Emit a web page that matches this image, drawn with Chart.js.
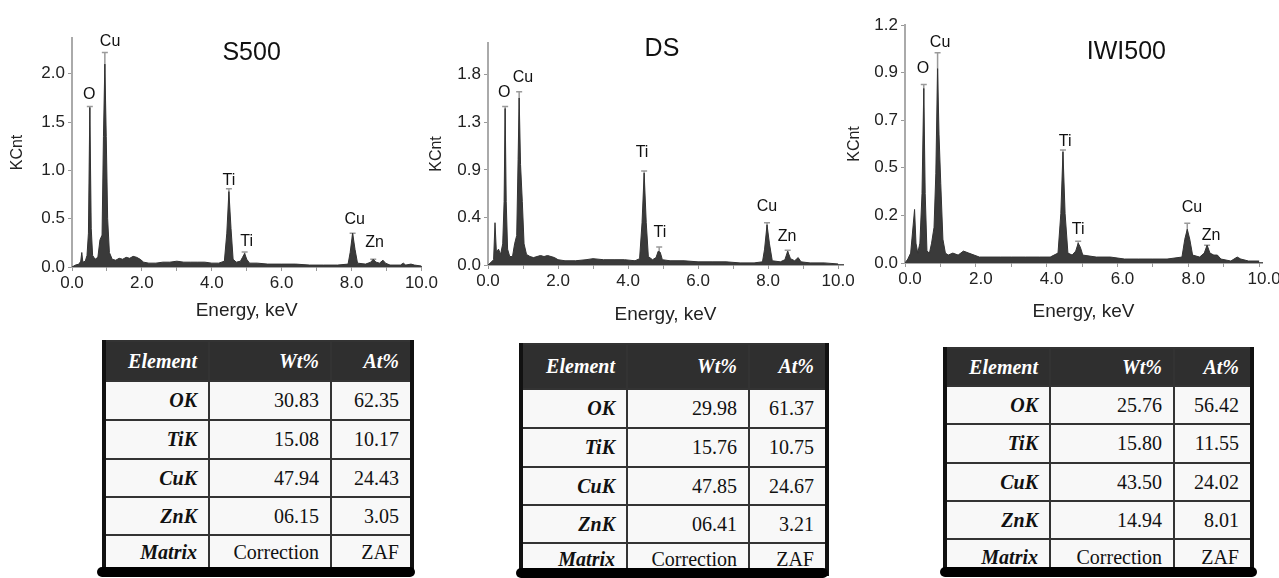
<!DOCTYPE html>
<html>
<head>
<meta charset="utf-8">
<script src="https://cdn.jsdelivr.net/npm/chart.js@4.4.1/dist/chart.umd.min.js"></script>
<style>
  body { margin: 0; background: #fff; }
  #wrap { position: relative; width: 1279px; height: 578px; overflow: hidden; background: #fff; }
  .plot { position: absolute; top: 0; }
  .tbl { position: absolute; border-collapse: collapse; table-layout: fixed;
         font-family: 'Liberation Serif', 'Times New Roman', serif; font-size: 20px;
         border-left: 4px solid #111; border-right: 4px solid #111; border-top: 2px solid #222; }
  .tbl td, .tbl th { border: 2px solid #333; text-align: right; padding: 0 11px 0 2px;
                     background: #f8f8f8; color: #111; white-space: nowrap; }
  .tbl th { background: #2f2f2f; color: #fff; font-style: italic; font-weight: bold; }
  .tbl td.el { font-weight: bold; font-style: italic; }
  .bar { position: absolute; height: 10px; background: #000; border-radius: 5px; }
</style>
</head>
<body>
<div id="wrap">
  <div class="plot" style="left:0px"><canvas id="c1" width="440" height="330"></canvas></div>
  <div class="plot" style="left:420px"><canvas id="c2" width="441" height="330"></canvas></div>
  <div class="plot" style="left:840px"><canvas id="c3" width="439" height="330"></canvas></div>
</div>
<script>
// ---- data (energy keV, counts KCnt) ----
const s500Energy = [0.00,0.10,0.20,0.25,0.28,0.31,0.38,0.43,0.47,0.51,0.55,0.59,0.66,0.74,0.80,0.86,0.90,0.94,0.98,1.02,1.07,1.15,1.25,1.35,1.45,1.55,1.65,1.75,1.85,1.95,2.05,2.20,2.40,2.60,2.80,3.00,3.20,3.40,3.60,3.80,4.00,4.20,4.36,4.43,4.49,4.55,4.61,4.70,4.82,4.88,4.94,5.00,5.08,5.30,5.60,6.00,6.40,6.80,7.20,7.60,7.90,7.96,8.03,8.10,8.17,8.40,8.55,8.62,8.70,8.80,8.90,8.97,9.10,9.40,9.48,9.55,9.70,9.80,10.00];
const s500Counts = [0.00,0.02,0.03,0.06,0.15,0.05,0.06,0.12,0.35,1.65,0.40,0.12,0.08,0.10,0.28,0.33,1.35,2.10,1.35,0.50,0.15,0.08,0.07,0.09,0.08,0.10,0.09,0.11,0.10,0.08,0.05,0.04,0.04,0.05,0.05,0.06,0.05,0.05,0.05,0.05,0.04,0.04,0.06,0.35,0.78,0.40,0.08,0.05,0.06,0.10,0.14,0.08,0.04,0.04,0.03,0.03,0.03,0.02,0.02,0.02,0.03,0.15,0.35,0.18,0.04,0.03,0.05,0.08,0.05,0.04,0.07,0.04,0.02,0.02,0.04,0.02,0.03,0.02,0.01];

const dsEnergy = [0.00,0.10,0.16,0.20,0.24,0.30,0.36,0.42,0.46,0.49,0.52,0.56,0.62,0.70,0.76,0.82,0.86,0.89,0.93,0.98,1.03,1.10,1.20,1.30,1.40,1.50,1.60,1.70,1.80,1.90,2.00,2.20,2.50,2.80,3.00,3.30,3.60,3.90,4.20,4.33,4.40,4.46,4.52,4.58,4.70,4.80,4.86,4.92,4.98,5.20,5.60,6.00,6.40,6.80,7.20,7.60,7.84,7.90,7.97,8.04,8.12,8.35,8.48,8.56,8.64,8.76,8.86,8.94,9.20,9.60,10.00];
const dsCounts = [0.00,0.03,0.05,0.40,0.12,0.15,0.10,0.20,0.60,1.48,0.60,0.15,0.08,0.08,0.20,0.28,1.00,1.58,0.95,0.60,0.20,0.10,0.08,0.07,0.08,0.09,0.08,0.09,0.08,0.07,0.05,0.04,0.04,0.05,0.06,0.05,0.05,0.05,0.04,0.06,0.40,0.87,0.40,0.08,0.05,0.07,0.13,0.12,0.05,0.04,0.04,0.03,0.03,0.03,0.02,0.02,0.03,0.15,0.38,0.20,0.04,0.03,0.05,0.13,0.06,0.04,0.07,0.03,0.02,0.02,0.01];

const iwiEnergy = [0.00,0.08,0.16,0.27,0.31,0.36,0.42,0.48,0.53,0.57,0.62,0.69,0.75,0.82,0.87,0.92,0.96,1.01,1.07,1.14,1.22,1.35,1.50,1.65,1.80,1.95,2.10,2.40,2.70,3.00,3.40,3.80,4.10,4.32,4.40,4.46,4.52,4.60,4.72,4.82,4.89,4.95,5.02,5.40,5.80,6.20,6.60,7.00,7.40,7.82,7.90,7.97,8.04,8.12,8.32,8.45,8.53,8.61,8.72,8.82,8.92,9.20,9.38,9.48,9.70,10.00];
const iwiCounts = [0.00,0.02,0.05,0.27,0.10,0.05,0.10,0.35,0.88,0.35,0.06,0.05,0.10,0.18,0.45,0.98,0.65,0.40,0.12,0.05,0.04,0.05,0.04,0.06,0.05,0.04,0.03,0.03,0.03,0.03,0.03,0.03,0.03,0.05,0.25,0.56,0.25,0.05,0.04,0.06,0.10,0.08,0.04,0.03,0.03,0.02,0.02,0.02,0.02,0.03,0.12,0.17,0.12,0.04,0.03,0.05,0.09,0.05,0.04,0.04,0.02,0.01,0.03,0.02,0.01,0.01];

// peak labels
const peakNames = ['O', 'Cu', 'Ti', 'Ti', 'Cu', 'Zn'];
const s500PeakE = [0.51, 0.94, 4.49, 4.94, 8.03, 8.62];
const s500PeakCap = [1.66, 2.22, 0.81, 0.155, 0.35, 0.08];
const s500LabelE = [0.49, 1.09, 4.49, 5.0, 8.09, 8.66];
const s500LabelY = [1.78, 2.33, 0.89, 0.26, 0.49, 0.25];

const dsPeakE = [0.49, 0.89, 4.46, 4.89, 7.97, 8.56];
const dsPeakCap = [1.5, 1.64, 0.89, 0.17, 0.4, 0.14];
const dsLabelE = [0.46, 1.0, 4.4, 4.91, 7.97, 8.54];
const dsLabelY = [1.63, 1.77, 1.06, 0.31, 0.55, 0.27];

const iwiPeakE = [0.53, 0.92, 4.46, 4.89, 7.97, 8.53];
const iwiPeakCap = [0.9, 1.06, 0.57, 0.11, 0.2, 0.09];
const iwiLabelE = [0.51, 0.99, 4.52, 4.89, 8.1, 8.64];
const iwiLabelY = [0.98, 1.11, 0.61, 0.17, 0.28, 0.14];

// axis ticks
const xTickValues = [0, 1, 2, 3, 4, 5, 6, 7, 8, 9, 10];
const xTickLabels = ['0.0', '', '2.0', '', '4.0', '', '6.0', '', '8.0', '', '10.0'];
const s500YTicks = [0, 0.5, 1.0, 1.5, 2.0];
const s500YLabels = ['0.0', '0.5', '1.0', '1.5', '2.0'];
const dsYTicks = [0, 0.45, 0.9, 1.35, 1.8];
const dsYLabels = ['0.0', '0.4', '0.9', '1.3', '1.8'];
const iwiYTicks = [0, 0.24, 0.48, 0.72, 0.96, 1.2];
const iwiYLabels = ['0.0', '0.2', '0.5', '0.7', '0.9', '1.2'];

// tables
const tableElements = ['OK', 'TiK', 'CuK', 'ZnK'];
const s500Wt = ['30.83', '15.08', '47.94', '06.15'];
const s500At = ['62.35', '10.17', '24.43', '3.05'];
const dsWt = ['29.98', '15.76', '47.85', '06.41'];
const dsAt = ['61.37', '10.75', '24.67', '3.21'];
const iwiWt = ['25.76', '15.80', '43.50', '14.94'];
const iwiAt = ['56.42', '11.55', '24.02', '8.01'];

const FONT = '"Liberation Sans", Arial, sans-serif';

const peakPlugin = {
    id: 'peaks',
    beforeDatasetsDraw(chart, args, o) {
        const {ctx, scales: {x, y}} = chart;
        ctx.save();
        ctx.strokeStyle = '#9a9a9a';
        ctx.lineWidth = 1.5;
        o.energy.forEach((e, i) => {
            const px = x.getPixelForValue(e);
            const top = y.getPixelForValue(o.cap[i]);
            ctx.beginPath();
            ctx.moveTo(px, y.getPixelForValue(0));
            ctx.lineTo(px, top);
            ctx.moveTo(px - 3, top);
            ctx.lineTo(px + 3, top);
            ctx.stroke();
        });
        ctx.restore();
    },
    afterDatasetsDraw(chart, args, o) {
        const {ctx, chartArea, scales: {x, y}} = chart;
        ctx.save();
        ctx.fillStyle = '#111';
        ctx.textAlign = 'center';
        ctx.textBaseline = 'middle';
        ctx.font = '16px ' + FONT;
        peakNames.forEach((n, i) => {
            ctx.fillText(n, x.getPixelForValue(o.labelE[i]), y.getPixelForValue(o.labelY[i]));
        });
        ctx.font = '25px ' + FONT;
        ctx.fillText(o.title, chartArea.left + o.titleX * (chartArea.right - chartArea.left), o.titleY);
        ctx.restore();
    }
};

function spectrum(id, energy, counts, cfg) {
    const ctx = document.getElementById(id).getContext('2d');
    return new Chart(ctx, {
        type: 'line',
        data: {
            datasets: [{
                data: energy.map((e, i) => ({x: e, y: counts[i]})),
                borderColor: '#333',
                backgroundColor: '#3a3a3a',
                borderWidth: 1,
                pointRadius: 0,
                tension: 0,
                fill: 'origin'
            }]
        },
        options: {
            responsive: false,
            animation: false,
            layout: {padding: {left: 0, top: cfg.top, right: cfg.right, bottom: 0}},
            plugins: {
                legend: {display: false},
                tooltip: {enabled: false},
                peaks: cfg.peaks
            },
            scales: {
                x: {
                    type: 'linear',
                    min: cfg.xMin,
                    max: cfg.xMax,
                    afterBuildTicks: s => { s.ticks = xTickValues.map(v => ({value: v})); },
                    afterFit: s => { s.height = cfg.xH; },
                    grid: {drawOnChartArea: false, drawTicks: true, tickLength: 4, color: '#999'},
                    border: {display: true, color: '#555', width: 1.5},
                    ticks: {
                        autoSkip: false, maxRotation: 0, padding: 2,
                        labelOffset: cfg.labelOffset || 0,
                        color: '#222', font: {size: 17, family: FONT},
                        callback: (v, i) => xTickLabels[i]
                    },
                    title: {
                        display: true, text: 'Energy, keV', color: '#222',
                        font: {size: 19, family: FONT},
                        padding: {top: 0, bottom: cfg.xTitlePad}
                    }
                },
                y: {
                    min: 0,
                    max: cfg.yMax,
                    afterBuildTicks: s => { s.ticks = cfg.yTicks.map(v => ({value: v})); },
                    afterFit: s => { s.width = cfg.yW; },
                    grid: {drawOnChartArea: false, drawTicks: true, tickLength: 4, color: '#999'},
                    border: {display: true, color: '#aaa', width: 2},
                    ticks: {
                        padding: 3, color: '#222', font: {size: 17, family: FONT},
                        callback: (v, i) => cfg.yLabels[i]
                    },
                    title: {
                        display: true, text: 'KCnt', color: '#222',
                        font: {size: 16, family: FONT},
                        padding: {top: cfg.yTitlePad, bottom: 0}
                    }
                }
            }
        },
        plugins: [peakPlugin]
    });
}

spectrum('c1', s500Energy, s500Counts, {
    top: 38, right: 18, xMin: 0, xMax: 10, yMax: 2.37, xH: 63, yW: 72,
    yTicks: s500YTicks, yLabels: s500YLabels, xTitlePad: 8, yTitlePad: 8,
    peaks: {energy: s500PeakE, cap: s500PeakCap, labelE: s500LabelE, labelY: s500LabelY,
            title: 'S500', titleX: 0.514, titleY: 53}
});

spectrum('c2', dsEnergy, dsCounts, {
    top: 43, right: 18, xMin: 0, xMax: 10.14, yMax: 2.1, xH: 65, yW: 68,
    yTicks: dsYTicks, yLabels: dsYLabels, xTitlePad: 4, yTitlePad: 7,
    peaks: {energy: dsPeakE, cap: dsPeakCap, labelE: dsLabelE, labelY: dsLabelY,
            title: 'DS', titleX: 0.49, titleY: 49}
});

spectrum('c3', iwiEnergy, iwiCounts, {
    top: 25, right: 17, xMin: 0, xMax: 10.08, yMax: 1.2, xH: 67, yW: 65,
    yTicks: iwiYTicks, yLabels: iwiYLabels, xTitlePad: 7, yTitlePad: 5, labelOffset: 5,
    peaks: {energy: iwiPeakE, cap: iwiPeakCap, labelE: iwiLabelE, labelY: iwiLabelY,
            title: 'IWI500', titleX: 0.62, titleY: 52}
});

// ---- composition tables ----
function makeTable(left, top, cols, rows, wt, at, bar) {
    const wrap = document.getElementById('wrap');
    const t = document.createElement('table');
    t.className = 'tbl';
    t.style.left = left + 'px';
    t.style.top = top + 'px';
    const cg = document.createElement('colgroup');
    cols.forEach(w => { const c = document.createElement('col'); c.style.width = w + 'px'; cg.appendChild(c); });
    t.appendChild(cg);
    let html = '<tr style="height:' + rows[0] + 'px"><th>Element</th><th>Wt%</th><th>At%</th></tr>';
    tableElements.forEach((el, i) => {
        html += '<tr style="height:' + rows[i + 1] + 'px"><td class="el">' + el + '</td><td>' + wt[i] + '</td><td>' + at[i] + '</td></tr>';
    });
    html += '<tr style="height:' + rows[5] + 'px"><td class="el">Matrix</td><td>Correction</td><td>ZAF</td></tr>';
    t.insertAdjacentHTML('beforeend', html);
    wrap.appendChild(t);
    const b = document.createElement('div');
    b.className = 'bar';
    b.style.left = bar[0] + 'px';
    b.style.width = bar[1] + 'px';
    b.style.top = bar[2] + 'px';
    wrap.appendChild(b);
}

makeTable(102, 340, [105, 122, 81], [40, 39, 39, 38, 38, 34], s500Wt, s500At, [97, 318, 567]);
makeTable(519, 343, [106, 122, 78], [45, 39, 39, 38, 38, 32], dsWt, dsAt, [516, 312, 568]);
makeTable(943, 347, [105, 124, 78], [38, 38, 39, 38, 38, 36], iwiWt, iwiAt, [940, 317, 567]);
</script>
</body>
</html>
